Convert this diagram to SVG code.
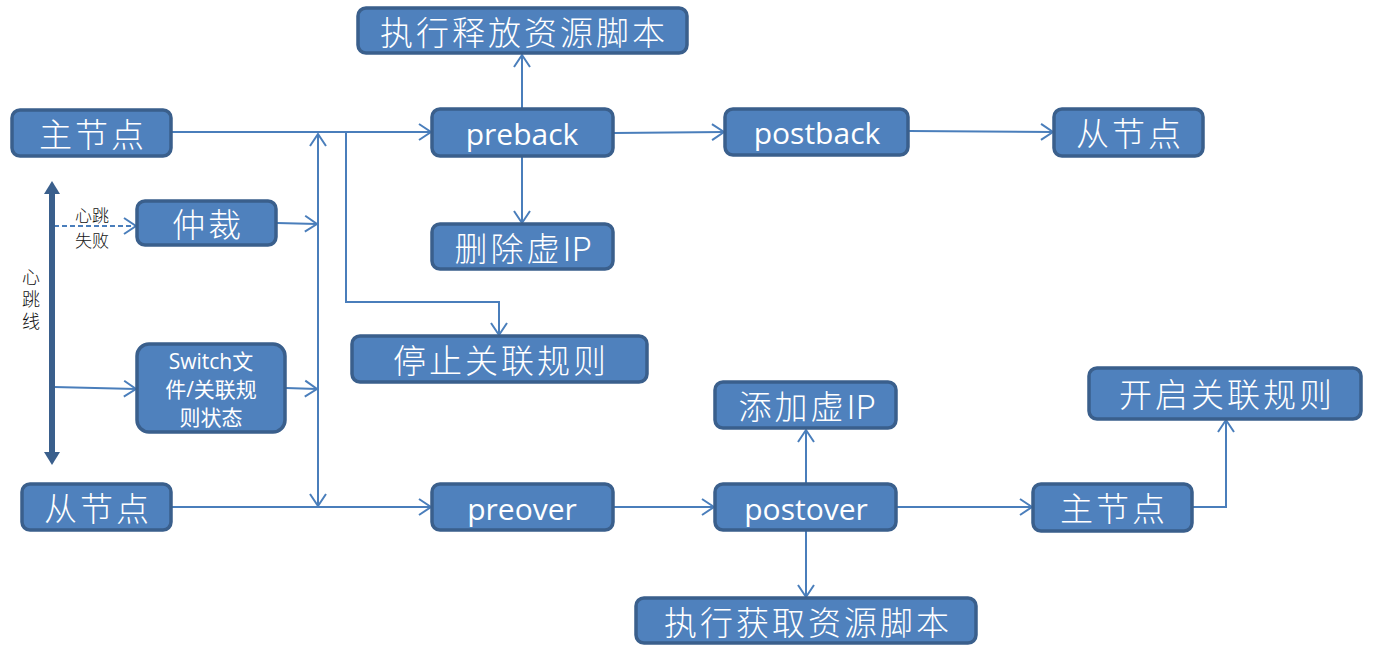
<svg xmlns="http://www.w3.org/2000/svg" width="1377" height="653" viewBox="0 0 1377 653">
<style>
.node rect{fill:#4F81BD;stroke:#3A5F8C;stroke-width:3.5}
.t{fill:#fff;font-family:"Noto Sans CJK SC","Open Sans",sans-serif;font-size:33px;font-weight:300;letter-spacing:3px;text-anchor:middle;dominant-baseline:central}
.t tspan{letter-spacing:0}
.l{fill:#fff;font-family:"Open Sans","Noto Sans CJK SC",sans-serif;font-size:30px;text-anchor:middle;dominant-baseline:central}
.s{fill:#fff;font-family:"Open Sans","Noto Sans CJK SC",sans-serif;font-size:21px;text-anchor:middle;dominant-baseline:central}
.k{fill:#111;font-family:"Noto Sans CJK SC",sans-serif;font-size:17px;font-weight:300;text-anchor:middle;dominant-baseline:central}
.kv{fill:#111;font-family:"Noto Sans CJK SC",sans-serif;font-size:18px;font-weight:300;text-anchor:middle;writing-mode:vertical-rl;letter-spacing:4px}
.c line,.c polyline,.c path{fill:none;stroke:#4A7EBB;stroke-width:2}
</style>
<defs>
<marker id="a" markerUnits="userSpaceOnUse" markerWidth="20" markerHeight="20" viewBox="-14 -10 16 20" refX="0" refY="0" orient="auto-start-reverse">
<path d="M-12,-8 L0,0 L-12,8" fill="none" stroke="#4A7EBB" stroke-width="2"/>
</marker>
</defs>

<g id="connectors" class="c">
<line x1="172" y1="132" x2="431" y2="132" marker-end="url(#a)"/>
<polyline points="346,132 346,302 499,302 499,335" marker-end="url(#a)"/>
<line x1="318" y1="134" x2="318" y2="506" marker-start="url(#a)" marker-end="url(#a)"/>
<line x1="277" y1="223" x2="317" y2="224" marker-end="url(#a)"/>
<line x1="286" y1="388" x2="317" y2="389" marker-end="url(#a)"/>
<line x1="54" y1="226" x2="136" y2="226" stroke-dasharray="5,3" marker-end="url(#a)"/>
<line x1="54" y1="387" x2="136" y2="389" marker-end="url(#a)"/>
<line x1="172" y1="507" x2="431" y2="507" marker-end="url(#a)"/>
<line x1="522" y1="108" x2="522" y2="55" marker-end="url(#a)"/>
<line x1="522" y1="157" x2="522" y2="223" marker-end="url(#a)"/>
<line x1="614" y1="133" x2="724" y2="132" marker-end="url(#a)"/>
<line x1="909" y1="131" x2="1053" y2="132" marker-end="url(#a)"/>
<line x1="614" y1="507" x2="714" y2="507" marker-end="url(#a)"/>
<line x1="806" y1="483" x2="806" y2="430" marker-end="url(#a)"/>
<line x1="806" y1="531" x2="806" y2="597" marker-end="url(#a)"/>
<line x1="897" y1="507" x2="1032" y2="507" marker-end="url(#a)"/>
<polyline points="1193,507 1226,507 1226,420" marker-end="url(#a)"/>
</g>

<g id="heartbeat-line">
<line x1="52" y1="192" x2="52" y2="454" stroke="#3A5F8C" stroke-width="6"/>
<polygon points="52,181 44,194 60,194" fill="#3A5F8C"/>
<polygon points="52,465 44,452 60,452" fill="#3A5F8C"/>
<text class="kv" x="31" y="301">心跳线</text>
<text class="k" x="92" y="214">心跳</text>
<text class="k" x="92" y="239">失败</text>
</g>

<g id="master-left" class="node"><rect x="12" y="110" width="159" height="46" rx="8"/><text class="t" x="93" y="133">主节点</text></g>
<g id="arbiter" class="node"><rect x="137" y="201" width="139" height="44" rx="8"/><text class="t" x="208" y="223">仲裁</text></g>
<g id="switch" class="node"><rect x="137" y="344" width="148" height="88" rx="12"/>
<text class="s" x="211" y="361">Switch文</text>
<text class="s" x="211" y="389">件/关联规</text>
<text class="s" x="211" y="417">则状态</text></g>
<g id="slave-left" class="node"><rect x="22" y="484" width="149" height="46" rx="8"/><text class="t" x="98" y="507">从节点</text></g>
<g id="release-script" class="node"><rect x="358" y="8" width="329" height="45" rx="8"/><text class="t" x="524" y="31">执行释放资源脚本</text></g>
<g id="preback" class="node"><rect x="432" y="109" width="181" height="47" rx="8"/><text class="l" x="522" y="133">preback</text></g>
<g id="del-vip" class="node"><rect x="432" y="224" width="181" height="45" rx="8"/><text class="t" x="523" y="247">删除虚<tspan>IP</tspan></text></g>
<g id="stop-rules" class="node"><rect x="352" y="336" width="295" height="46" rx="8"/><text class="t" x="501" y="359">停止关联规则</text></g>
<g id="preover" class="node"><rect x="432" y="484" width="181" height="46" rx="8"/><text class="l" x="522" y="508">preover</text></g>
<g id="postback" class="node"><rect x="725" y="109" width="183" height="46" rx="8"/><text class="l" x="817" y="132">postback</text></g>
<g id="slave-right" class="node"><rect x="1054" y="109" width="149" height="47" rx="8"/><text class="t" x="1130" y="132">从节点</text></g>
<g id="add-vip" class="node"><rect x="715" y="382" width="181" height="46" rx="8"/><text class="t" x="807" y="405">添加虚<tspan>IP</tspan></text></g>
<g id="postover" class="node"><rect x="715" y="484" width="181" height="46" rx="8"/><text class="l" x="806" y="508">postover</text></g>
<g id="acquire-script" class="node"><rect x="636" y="598" width="340" height="45" rx="8"/><text class="t" x="808" y="621">执行获取资源脚本</text></g>
<g id="master-right" class="node"><rect x="1033" y="484" width="159" height="47" rx="8"/><text class="t" x="1114" y="507">主节点</text></g>
<g id="start-rules" class="node"><rect x="1089" y="368" width="272" height="51" rx="8"/><text class="t" x="1227" y="393">开启关联规则</text></g>
</svg>
